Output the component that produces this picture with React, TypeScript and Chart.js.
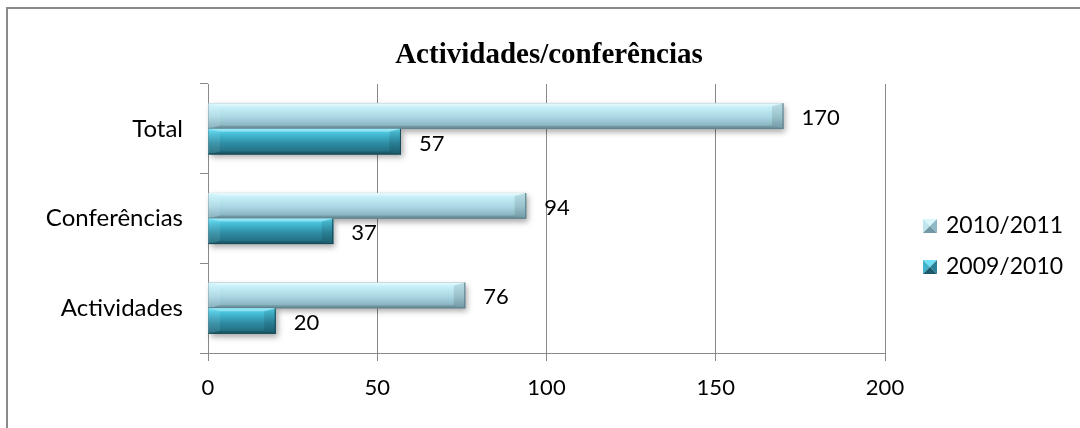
import React, { useEffect, useRef } from "react";
import { Chart, registerables } from "chart.js";

Chart.register(...registerables);

const categories = ["Total", "Conferências", "Actividades"];
const seriesNames = ["2010/2011", "2009/2010"];
const values2010_2011 = [170, 94, 76];
const values2009_2010 = [57, 37, 20];
const xMin = 0;
const xMax = 200;
const xStep = 50;
const chartTitle = "Actividades/conferências";

const FONT = "Lato, 'Open Sans', sans-serif";
const NUM_SIZE = 22;
const CAT_SIZE = 24;
const LEGEND_SIZE = 23;
const GRID = "#898989";

const palettes = [
  {
    stops: [
      [0, "#d4f6fc"],
      [0.15, "#c6f0f9"],
      [0.55, "#a9d6e2"],
      [1, "#7ea9b6"],
    ],
    edge: "#5f838e",
    tri: ["#d9f6fb", "#bfe5ee", "#8fb9c5", "#6f98a4"],
  },
  {
    stops: [
      [0, "#6fe4fa"],
      [0.15, "#4ac5de"],
      [0.55, "#2f8ea6"],
      [1, "#1f6678"],
    ],
    edge: "#174b58",
    tri: ["#6fe0f6", "#3fb3cc", "#2a8299", "#1b5a6a"],
  },
];

function paintBar(ctx: CanvasRenderingContext2D, x0: number, x1: number, yT: number, yB: number, p: any) {
  const g = ctx.createLinearGradient(0, yT, 0, yB);
  p.stops.forEach((s: any) => g.addColorStop(s[0], s[1]));
  ctx.fillStyle = g;
  ctx.fillRect(x0, yT, x1 - x0, yB - yT);
  const h = yB - yT;
  const bx = Math.min(h * 0.45, (x1 - x0) / 2);
  const by = 3;
  const poly = (pts: number[][], color: string) => {
    ctx.beginPath();
    ctx.moveTo(pts[0][0], pts[0][1]);
    for (let i = 1; i < pts.length; i++) ctx.lineTo(pts[i][0], pts[i][1]);
    ctx.closePath();
    ctx.fillStyle = color;
    ctx.fill();
  };
  poly([[x0, yT], [x1, yT], [x1 - bx, yT + by], [x0 + bx, yT + by]], "rgba(255,255,255,0.3)");
  poly([[x0, yB], [x1, yB], [x1 - bx, yB - by], [x0 + bx, yB - by]], "rgba(0,0,0,0.15)");
  poly([[x0, yT], [x0 + bx, yT + by], [x0 + bx, yB - by], [x0, yB]], "rgba(255,255,255,0.08)");
  poly([[x1, yT], [x1 - bx, yT + by], [x1 - bx, yB - by], [x1, yB]], "rgba(0,0,0,0.1)");
  ctx.fillStyle = p.edge;
  ctx.fillRect(x0, yB - 1, x1 - x0, 1);
  ctx.fillRect(x1 - 1, yT, 1, yB - yT);
}

function paintLegendBox(ctx: CanvasRenderingContext2D, x: number, y: number, s: number, p: any) {
  const cx = x + s / 2;
  const cy = y + s / 2;
  const tri = (a: number[], b: number[], color: string) => {
    ctx.beginPath();
    ctx.moveTo(a[0], a[1]);
    ctx.lineTo(b[0], b[1]);
    ctx.lineTo(cx, cy);
    ctx.closePath();
    ctx.fillStyle = color;
    ctx.fill();
  };
  tri([x, y], [x + s, y], p.tri[0]);
  tri([x, y], [x, y + s], p.tri[1]);
  tri([x + s, y], [x + s, y + s], p.tri[2]);
  tri([x, y + s], [x + s, y + s], p.tri[3]);
}

const decorPlugin = {
  id: "decor",
  afterDatasetsDraw(chart: any) {
    const ctx: CanvasRenderingContext2D = chart.ctx;
    const metas = chart.data.datasets.map((_: any, i: number) => chart.getDatasetMeta(i));
    ctx.save();
    metas.forEach((meta: any) => {
      meta.data.forEach((el: any) => {
        const x0 = Math.min(el.base, el.x);
        const x1 = Math.max(el.base, el.x);
        const yT = el.y - el.height / 2;
        ctx.save();
        ctx.shadowColor = "rgba(0,0,0,0.35)";
        ctx.shadowBlur = 6;
        ctx.shadowOffsetX = 2;
        ctx.shadowOffsetY = 3;
        ctx.fillStyle = "#888";
        ctx.fillRect(x0, yT, x1 - x0, el.height);
        ctx.restore();
      });
    });
    metas.forEach((meta: any, di: number) => {
      meta.data.forEach((el: any) => {
        const x0 = Math.min(el.base, el.x);
        const x1 = Math.max(el.base, el.x);
        const yT = el.y - el.height / 2;
        paintBar(ctx, x0, x1, yT, yT + el.height, palettes[di]);
      });
    });
    ctx.fillStyle = "#000";
    ctx.font = `${NUM_SIZE}px ${FONT}`;
    ctx.textAlign = "left";
    ctx.textBaseline = "middle";
    metas.forEach((meta: any, di: number) => {
      meta.data.forEach((el: any, i: number) => {
        const v = chart.data.datasets[di].data[i];
        ctx.fillText(String(v), el.x + 18, el.y + 2);
      });
    });
    ctx.restore();
  },
  afterDraw(chart: any) {
    const ctx: CanvasRenderingContext2D = chart.ctx;
    ctx.save();
    ctx.fillStyle = "#000";
    ctx.font = `bold 29px 'Liberation Serif', 'Times New Roman', serif`;
    ctx.textAlign = "center";
    ctx.textBaseline = "alphabetic";
    ctx.fillText(chartTitle, 549, 63);
    ctx.font = `${LEGEND_SIZE}px ${FONT}`;
    ctx.textAlign = "left";
    seriesNames.forEach((name, i) => {
      const baseY = 233 + i * 41;
      paintLegendBox(ctx, 923, baseY - 14, 14, palettes[i]);
      ctx.fillStyle = "#000";
      ctx.fillText(name, 946, baseY);
    });
    ctx.restore();
  },
};

export default function App() {
  const ref = useRef<HTMLCanvasElement>(null);
  useEffect(() => {
    if (!ref.current) return;
    const chart = new Chart(ref.current, {
      type: "bar",
      data: {
        labels: categories,
        datasets: [
          { label: seriesNames[0], data: values2010_2011, backgroundColor: "#a8d5e1" },
          { label: seriesNames[1], data: values2009_2010, backgroundColor: "#2f8ea6" },
        ],
      },
      options: {
        indexAxis: "y",
        animation: false,
        responsive: false,
        maintainAspectRatio: false,
        events: [],
        categoryPercentage: 0.57,
        barPercentage: 1,
        layout: { padding: { left: 0, top: 84, right: 195, bottom: 0 } },
        plugins: {
          legend: { display: false },
          title: { display: false },
          tooltip: { enabled: false },
        },
        scales: {
          x: {
            min: xMin,
            max: xMax,
            ticks: {
              stepSize: xStep,
              color: "#000",
              font: { family: FONT, size: NUM_SIZE },
              padding: 14,
            },
            grid: { color: GRID, lineWidth: 1, tickLength: 8, drawOnChartArea: true },
            border: { color: GRID, width: 1 },
            afterFit: (s: any) => {
              s.height = 75;
            },
          },
          y: {
            ticks: {
              color: "#000",
              font: { family: FONT, size: CAT_SIZE },
              padding: 17,
            },
            grid: { color: GRID, lineWidth: 1, tickLength: 8, drawOnChartArea: false, offset: true },
            border: { color: GRID, width: 1 },
            afterFit: (s: any) => {
              s.width = 208;
            },
          },
        },
      },
      plugins: [decorPlugin],
    } as any);
    return () => chart.destroy();
  }, []);
  return (
    <div style={{ position: "fixed", left: 0, top: 0, width: 1080, height: 428, overflow: "hidden", background: "#fff" }}>
      <div
        style={{
          position: "absolute",
          left: 6,
          top: 7,
          width: 1200,
          height: 600,
          border: "2px solid #8a8a8a",
          boxSizing: "border-box",
        }}
      />
      <canvas ref={ref} width={1080} height={428} style={{ position: "absolute", left: 0, top: 0, width: 1080, height: 428 }} />
    </div>
  );
}
